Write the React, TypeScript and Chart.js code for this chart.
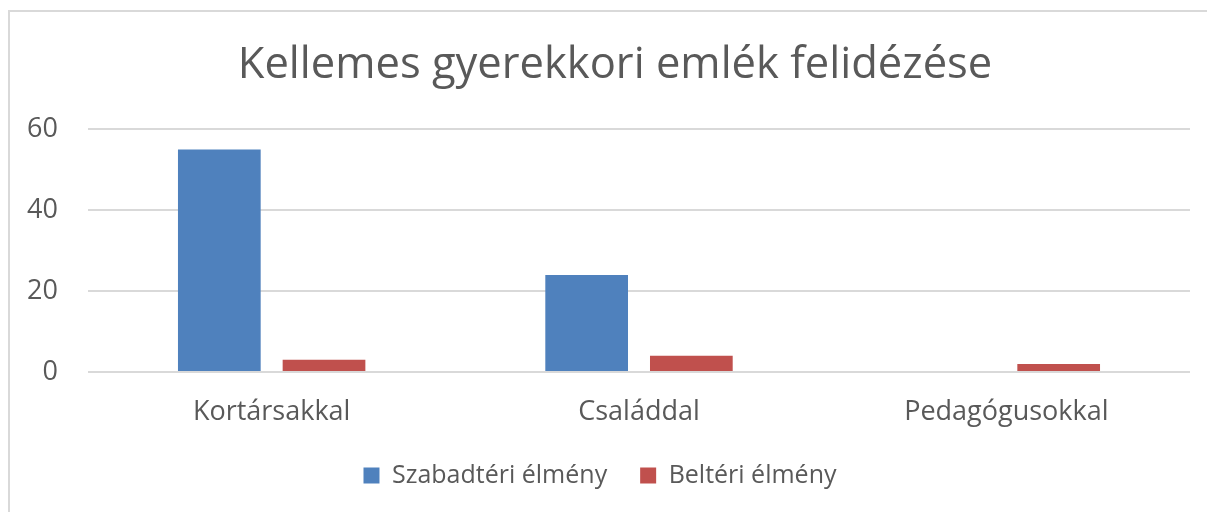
import React, { useEffect, useRef } from "react";
import { Chart, registerables } from "chart.js";

Chart.register(...registerables);

const categories = ["Kortársakkal", "Családdal", "Pedagógusokkal"];
const seriesNames = ["Szabadtéri élmény", "Beltéri élmény"];
const outdoorValues = [55, 24, 0];
const indoorValues = [3, 4, 2];
const yTicks = [0, 20, 40, 60];
const titleText = "Kellemes gyerekkori emlék felidézése";

const FONT = "'Open Sans', 'Noto Sans', sans-serif";
const TEXT = "#595959";

const titleShift = {
  id: "titleShift",
  afterLayout(chart: any) {
    if (chart.titleBlock) {
      chart.titleBlock.left += 30;
    }
  },
};

export default function App() {
  const ref = useRef<HTMLCanvasElement | null>(null);
  useEffect(() => {
    if (!ref.current) return;
    const chart = new Chart(ref.current, {
      type: "bar",
      data: {
        labels: categories,
        datasets: [
          {
            label: seriesNames[0],
            data: outdoorValues,
            backgroundColor: "#4f81bd",
            categoryPercentage: 0.57,
            barPercentage: 0.79,
          },
          {
            label: seriesNames[1],
            data: indoorValues,
            backgroundColor: "#c0504d",
            categoryPercentage: 0.57,
            barPercentage: 0.79,
          },
        ],
      },
      plugins: [titleShift],
      options: {
        responsive: false,
        animation: false,
        layout: { padding: { left: 0, right: 17, top: 0, bottom: 14 } },
        plugins: {
          title: {
            display: true,
            text: titleText,
            color: TEXT,
            font: { family: FONT, size: 43.5, weight: "normal" },
            padding: { top: 28, bottom: 37 },
          },
          legend: {
            position: "bottom",
            labels: {
              color: TEXT,
              font: { family: FONT, size: 25 },
              boxWidth: 16,
              boxHeight: 16,
              padding: 33,
            },
          },
          tooltip: { enabled: false },
        },
        scales: {
          x: {
            grid: { display: false, drawTicks: false },
            border: { display: false },
            ticks: { color: TEXT, font: { family: FONT, size: 27 }, padding: 24 },
            afterFit: (scale: any) => {
              scale.height = 58;
            },
          },
          y: {
            min: 0,
            max: 60,
            afterBuildTicks: (scale: any) => {
              scale.ticks = yTicks.map((v) => ({ value: v }));
            },
            grid: { color: "#d9d9d9", lineWidth: 2, drawTicks: false },
            border: { display: false },
            ticks: { color: TEXT, font: { family: FONT, size: 27 }, padding: 30 },
            afterFit: (scale: any) => {
              scale.width = 78;
            },
          },
        },
      },
    });
    return () => chart.destroy();
  }, []);
  return (
    <div
      style={{
        position: "absolute",
        left: 8,
        top: 10,
        width: 1199,
        height: 502,
        borderLeft: "2px solid #d9d9d9",
        borderTop: "2px solid #d9d9d9",
        boxSizing: "border-box",
        background: "#fff",
      }}
    >
      <canvas ref={ref} width={1197} height={500} style={{ display: "block" }} />
    </div>
  );
}
